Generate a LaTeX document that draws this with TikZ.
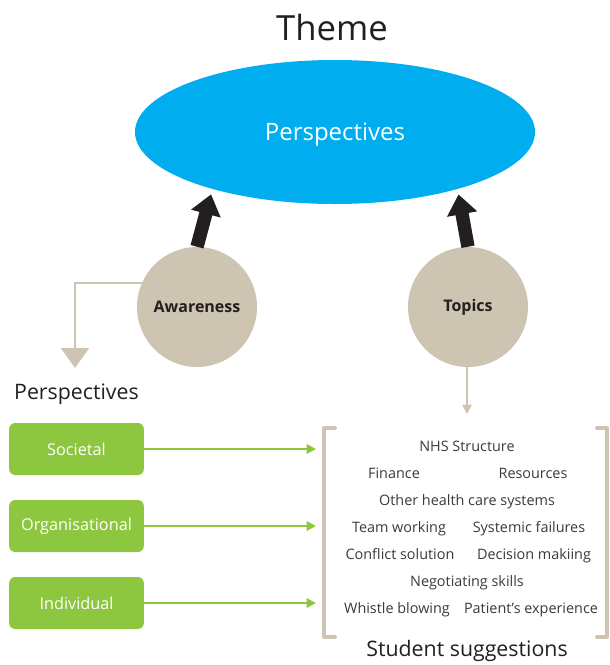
\documentclass[tikz,border=0pt]{standalone}
\usepackage{fontspec}
\setmainfont{Open Sans}
\usetikzlibrary{shapes.geometric, arrows.meta}
\definecolor{skyblue}{HTML}{00AEEF}
\definecolor{sand}{HTML}{CEC4B2}
\definecolor{leaf}{HTML}{8DC63F}
\definecolor{ink}{HTML}{231F20}
\definecolor{graytext}{HTML}{3A3A3A}

\begin{document}
\begin{tikzpicture}[x = 0.75pt, y = -0.75pt,
		bubble/.style = {circle, fill = sand, minimum size = 90pt, inner sep = 0pt, text = ink, font = \bfseries\fontsize{12}{14}\selectfont},
		greenbox/.style = {rectangle, rounded corners = 4.5pt, fill = leaf, minimum width = 101pt, minimum height = 39pt, text = white, font = \fontsize{12.2}{14}\selectfont},
		item/.style = {text = graytext, inner sep = 0pt, text height = 8pt, text depth = 2.5pt, font = \fontsize{10.8}{13}\selectfont},
		bigarrow/.style = {ink, line width = 10pt, -{Triangle[length = 15pt, width = 22pt]}, shorten > = 4pt},
		greenarrow/.style = {leaf, line width = 1.5pt, -{Triangle[length = 7pt, width = 7pt]}},
		bracket/.style = {sand, line width = 3pt, line cap = round, line join = round}
	]
	\useasboundingbox (0, 0) rectangle (610, 665);
	\node[text = ink, font = \fontsize{26}{30}\selectfont] (theme) at (332, 27) {Theme};
	\node[ellipse, fill = skyblue, minimum width = 300pt, minimum height = 108pt, text depth = 0pt, text = white, font = \fontsize{18}{22}\selectfont] (persp) at (335, 132) {Perspectives};
	\node[bubble] (aw) at (197, 307) {Awareness};
	\node[bubble] (tp) at (468, 307) {Topics};
	\draw[bigarrow] (aw.north) -- (persp.-155);
	\draw[bigarrow] (tp.north) -- (persp.-25);

	\coordinate (awdrop) at (75, 368);
	\draw[sand, line width = 1.5pt, -{Triangle[length = 15pt, width = 21pt]}] (aw.157) -| (awdrop);
	\coordinate (tpdrop) at (467, 414);
	\draw[sand, line width = 1.2pt, -{Triangle[length = 7pt, width = 7pt]}] (tp.south -| tpdrop) -- (tpdrop);

	\node[text = ink, font = \fontsize{16}{19}\selectfont] (plabel) at (76.5, 394) {Perspectives};
	\node[greenbox] (soc) at (76.5, 449) {Societal};
	\node[greenbox] (org) at (76.5, 526) {Organisational};
	\node[greenbox] (ind) at (76.5, 603) {Individual};
	\foreach \b in {soc, org, ind}
		\draw[greenarrow] (\b.east) -- (\b.east -| 316, 0);

	\draw[bracket] (335, 428) -| (324, 637) -- (335, 637);
	\draw[bracket] (597, 428) -| (607, 637) -- (597, 637);

	\node[item] (nhs) at (467, 448) {NHS Structure};
	\node[item] (finance) at (394, 475) {Finance};
	\node[item] (resources) at (533, 475) {Resources};
	\node[item] (other) at (467, 502) {Other health care systems};
	\node[item] (team) at (399, 529) {Team working};
	\node[item] (systemic) at (529, 529) {Systemic failures};
	\node[item] (conflict) at (400, 556) {Conflict solution};
	\node[item] (decision) at (534, 556) {Decision makiing};
	\node[item] (negot) at (467, 583) {Negotiating skills};
	\node[item] (whistle) at (397, 610) {Whistle blowing};
	\node[item] (patient) at (531, 610) {Patient’s experience};
	\node[text = ink, font = \fontsize{16}{19}\selectfont] (sugg) at (467, 651) {Student suggestions};
\end{tikzpicture}
\end{document}
